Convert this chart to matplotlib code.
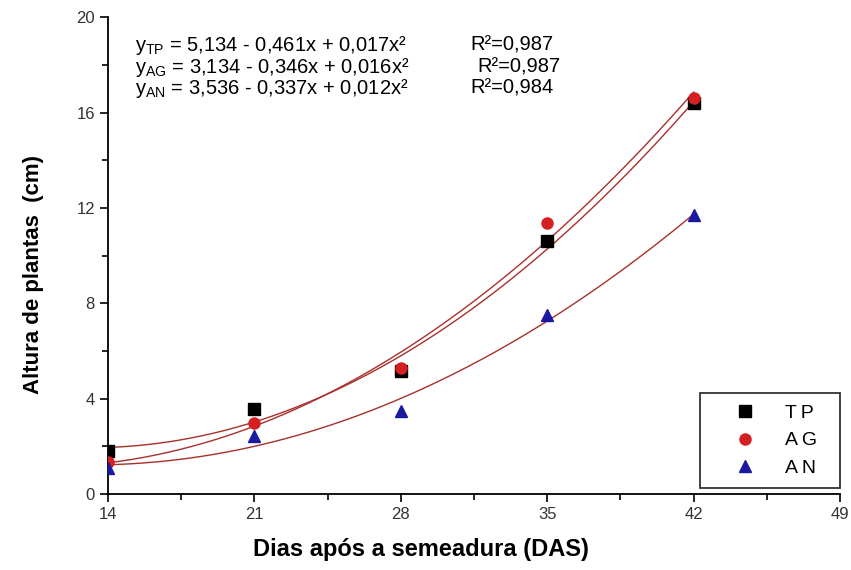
import numpy as np
import matplotlib
matplotlib.use('Agg')
import matplotlib.pyplot as plt
from matplotlib.ticker import MultipleLocator

plt.rcParams['font.family'] = ['Liberation Sans', 'DejaVu Sans']
plt.rcParams['mathtext.fontset'] = 'custom'
plt.rcParams['mathtext.rm'] = 'Liberation Sans'

# data
das = [14, 21, 28, 35, 42]
tp = [1.8, 3.56, 5.16, 10.6, 16.4]
ag = [1.35, 3.0, 5.3, 11.35, 16.6]
an = [1.1, 2.45, 3.5, 7.5, 11.7]

equations = [
    r'$\mathregular{y_{TP}}$ = 5,134 - 0,461x + 0,017x²',
    r'$\mathregular{y_{AG}}$ = 3,134 - 0,346x + 0,016x²',
    r'$\mathregular{y_{AN}}$ = 3,536 - 0,337x + 0,012x²',
]
r2_labels = ['R²=0,987', 'R²=0,987', 'R²=0,984']

fig = plt.figure(figsize=(8.51, 5.70), dpi=100)
ax = fig.add_axes([0.127, 0.133, 0.86, 0.837])

line_color = '#a8302c'
xs = np.linspace(14, 42, 200)
for vals in (tp, ag, an):
    coef = np.polyfit(das, vals, 2)
    ax.plot(xs, np.polyval(coef, xs), color=line_color, lw=1.0, zorder=2)

ax.plot(das, tp, 's', color='black', ms=8, label='T\u2009P  ', zorder=3)
ax.plot(das, ag, 'o', color='#d42020', ms=8, label='A\u2009G  ', zorder=3)
ax.plot(das, an, '^', color='#1a1aa0', ms=9, label='A\u2009N  ', zorder=3)

ax.set_xlim(14, 49)
ax.set_ylim(0, 20)
ax.set_xticks([14, 21, 28, 35, 42, 49])
ax.set_yticks([0, 4, 8, 12, 16, 20])
ax.xaxis.set_minor_locator(MultipleLocator(3.5))
ax.yaxis.set_minor_locator(MultipleLocator(2))
ax.spines['top'].set_visible(False)
ax.spines['right'].set_visible(False)
ax.spines['left'].set_linewidth(1.3)
ax.spines['bottom'].set_linewidth(1.3)
ax.tick_params(which='major', direction='out', length=6, width=1.2,
               labelsize=12, labelcolor='#333333')
ax.tick_params(which='minor', direction='out', length=4, width=1.2)

ax.set_xlabel('Dias após a semeadura (DAS)', fontsize=17, fontweight='bold')
ax.set_ylabel('Altura de plantas  (cm)', fontsize=16, fontweight='bold')
ax.xaxis.set_label_coords(0.428, -0.092)
ax.yaxis.set_label_coords(-0.087, 0.46)

eq_y = [0.941, 0.895, 0.851]
r2_x = [0.495, 0.505, 0.495]
for i, eq in enumerate(equations):
    ax.text(0.037, eq_y[i], eq, transform=ax.transAxes,
            fontsize=14.5, va='center', ha='left')
    ax.text(r2_x[i], eq_y[i], r2_labels[i], transform=ax.transAxes,
            fontsize=14.5, va='center', ha='left')

leg = ax.legend(loc='lower right', bbox_to_anchor=(1.0, 0.012), fontsize=14,
                frameon=True, fancybox=False, edgecolor='black',
                handletextpad=0.4, borderpad=0.6, labelspacing=0.5,
                handlelength=3.4, borderaxespad=0.0)
leg.get_frame().set_linewidth(1.3)

fig.savefig('out.png', dpi=100)
